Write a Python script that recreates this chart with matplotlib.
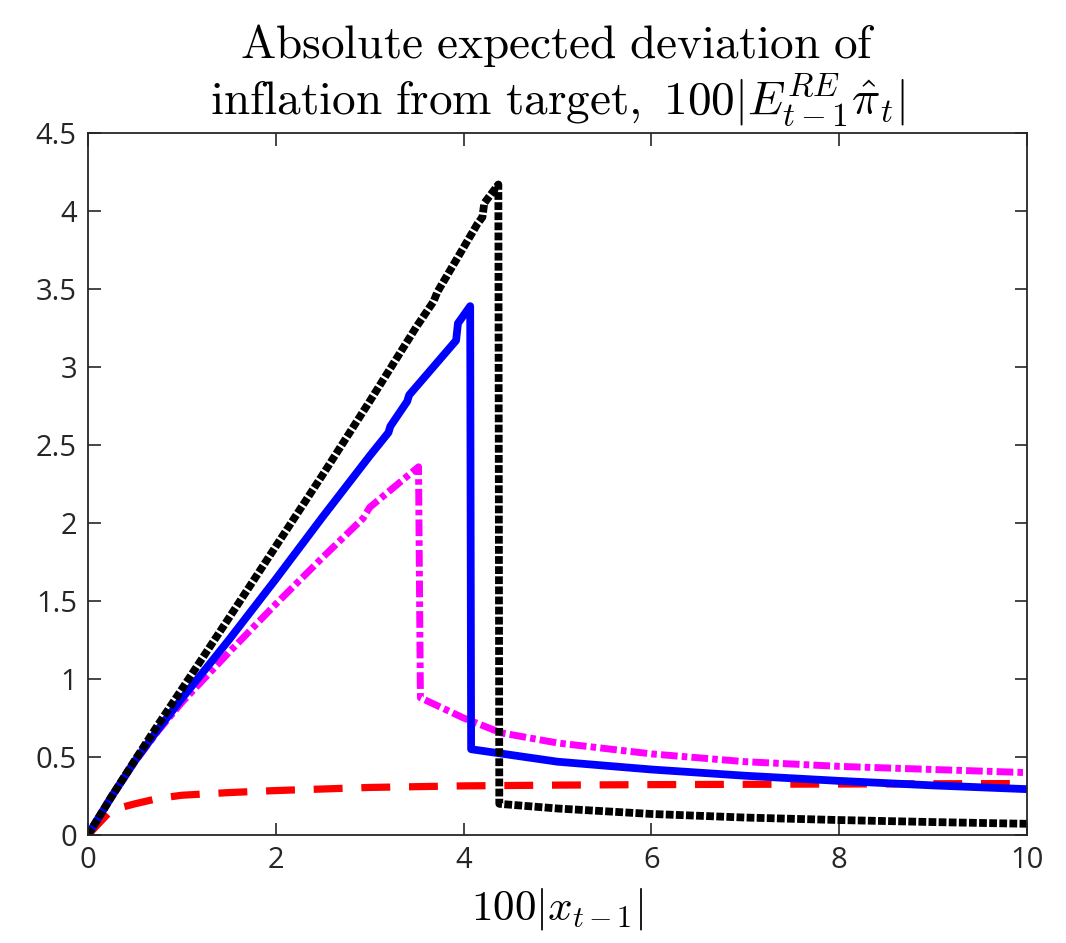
import matplotlib
matplotlib.use("Agg")
import matplotlib.pyplot as plt
from matplotlib.ticker import FuncFormatter

plt.rcParams['mathtext.fontset'] = 'cm'
plt.rcParams['font.family'] = ['Open Sans', 'DejaVu Sans']

# black dotted series
black_x = [0, 0.25, 0.5, 0.75, 1.0, 1.5, 2.0, 2.5, 3.0, 3.5, 3.68, 3.72, 4.15, 4.2, 4.22, 4.37,
           4.38, 5.0, 6.0, 7.0, 8.0, 9.0, 10.0]
black_y = [0, 0.245, 0.48, 0.71, 0.935, 1.39, 1.85, 2.31, 2.78, 3.26, 3.42, 3.48, 3.92, 3.96, 4.05, 4.17,
           0.20, 0.17, 0.135, 0.112, 0.096, 0.083, 0.072]

# blue solid series
blue_x = [0, 0.25, 0.5, 0.75, 1.0, 1.5, 2.0, 2.5, 3.0, 3.2, 3.22, 3.4, 3.42, 3.92, 3.94, 4.07,
          4.08, 5.0, 6.0, 7.0, 8.0, 9.0, 10.0]
blue_y = [0, 0.245, 0.475, 0.68, 0.875, 1.25, 1.64, 2.04, 2.43, 2.58, 2.62, 2.78, 2.82, 3.17, 3.28, 3.39,
          0.55, 0.47, 0.42, 0.38, 0.347, 0.318, 0.294]

# magenta dash-dot series
mag_x = [0, 0.25, 0.5, 0.75, 1.0, 1.5, 2.0, 2.5, 2.93, 3.0, 3.5, 3.52,
         3.54, 4.0, 4.4, 5.0, 6.0, 7.0, 8.0, 9.0, 10.0]
mag_y = [0, 0.245, 0.47, 0.67, 0.85, 1.17, 1.48, 1.78, 2.03, 2.10, 2.35, 2.36,
         0.88, 0.75, 0.655, 0.59, 0.52, 0.47, 0.44, 0.42, 0.40]

# red dashed series
red_x = [0, 0.25, 0.5, 0.75, 1.0, 1.5, 2.0, 3.0, 4.0, 5.0, 6.0, 8.0, 10.0]
red_y = [0, 0.16, 0.20, 0.235, 0.255, 0.272, 0.285, 0.305, 0.315, 0.32, 0.323, 0.327, 0.33]

xticks = [0, 2, 4, 6, 8, 10]
yticks = [0, 0.5, 1, 1.5, 2, 2.5, 3, 3.5, 4, 4.5]

fig = plt.figure(figsize=(10.66, 9.43), dpi=100)
ax = fig.add_axes([0.0825, 0.1145, 0.881, 0.7445])

ax.plot(red_x, red_y, color='red', lw=5.2, linestyle=(0, (4.0, 2.6)))
ax.plot(mag_x, mag_y, color='magenta', lw=5.0, linestyle=(0, (2.4, 0.6, 0.8, 0.6)))
ax.plot(blue_x, blue_y, color='blue', lw=5.6, linestyle='-')
ax.plot(black_x, black_y, color='black', lw=5.6, linestyle=(0, (1.0, 0.3)))

ax.set_xlim(0, 10)
ax.set_ylim(0, 4.5)
ax.set_xticks(xticks)
ax.set_yticks(yticks)
fmt = FuncFormatter(lambda v, p: '%g' % v)
ax.xaxis.set_major_formatter(fmt)
ax.yaxis.set_major_formatter(fmt)
ax.tick_params(direction='in', length=9, width=1.2, colors='0.15', labelsize=21,
               top=True, right=True, pad=8)
for s in ax.spines.values():
    s.set_color('0.15')
    s.set_linewidth(1.3)

ax.set_title(r'$\mathrm{Absolute\ expected\ deviation\ of}$' + '\n' +
             r'$\mathrm{inflation\ from\ target,\ 100}|E_{t-1}^{RE}\hat{\pi}_t|$',
             fontsize=34, pad=14, linespacing=1.05)
ax.set_xlabel(r'$100|x_{t-1}|$', fontsize=31, labelpad=8)

fig.savefig('out.png', dpi=100, facecolor='white')
